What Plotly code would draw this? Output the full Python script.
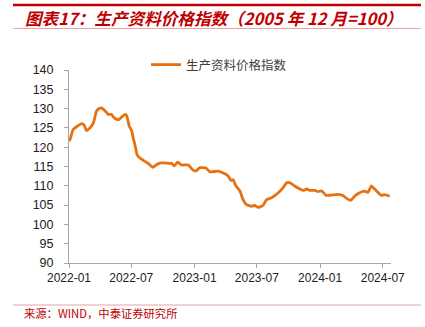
import plotly.graph_objects as go

dates = [
    "2022-01-01", "2022-01-04", "2022-01-13", "2022-01-23", "2022-02-07", "2022-02-14",
    "2022-02-21", "2022-03-03", "2022-03-13", "2022-03-22", "2022-03-30", "2022-04-06",
    "2022-04-16", "2022-04-25", "2022-05-05", "2022-05-10", "2022-05-20", "2022-05-27",
    "2022-06-03", "2022-06-13", "2022-06-18", "2022-06-25", "2022-07-02", "2022-07-07",
    "2022-07-12", "2022-07-18", "2022-07-26", "2022-08-05", "2022-08-19", "2022-09-01",
    "2022-09-13", "2022-09-22", "2022-10-12", "2022-10-26", "2022-11-03", "2022-11-13",
    "2022-11-24", "2022-12-14", "2022-12-26", "2023-01-04", "2023-01-17", "2023-02-03",
    "2023-02-15", "2023-03-11", "2023-03-30", "2023-04-09", "2023-04-17", "2023-04-23",
    "2023-05-01", "2023-05-13", "2023-05-22", "2023-06-01", "2023-06-16", "2023-06-25",
    "2023-07-05", "2023-07-19", "2023-07-29", "2023-08-13", "2023-08-23", "2023-09-06",
    "2023-09-16", "2023-09-26", "2023-10-05", "2023-10-20", "2023-11-03", "2023-11-13",
    "2023-11-23", "2023-12-02", "2023-12-17", "2023-12-26", "2024-01-05", "2024-01-19",
    "2024-02-03", "2024-02-22", "2024-03-07", "2024-03-20", "2024-03-30", "2024-04-10",
    "2024-04-25", "2024-05-09", "2024-05-19", "2024-05-29", "2024-06-07", "2024-06-17",
    "2024-06-27", "2024-07-06", "2024-07-21",
]
values = [
    121.6, 122.0, 124.6, 125.3, 126.1, 125.7,
    124.3, 125.0, 126.3, 129.4, 130.0, 130.2,
    129.4, 128.5, 128.5, 127.8, 127.2, 127.2,
    127.8, 128.5, 128.1, 125.5, 124.3, 122.3,
    120.5, 118.0, 117.2, 116.6, 115.8, 114.8,
    115.5, 115.9, 115.9, 115.8, 115.2, 116.1,
    115.4, 115.4, 114.2, 113.8, 114.7, 114.6,
    113.6, 113.8, 113.1, 112.5, 111.4, 111.6,
    110.0, 108.6, 106.4, 105.1, 104.7, 104.9,
    104.4, 104.9, 106.4, 106.9, 107.5, 108.6,
    109.6, 110.8, 110.8, 109.9, 109.2, 108.8,
    109.2, 108.8, 108.8, 108.5, 108.7, 107.5,
    107.6, 107.8, 107.5, 106.6, 106.2, 107.3,
    108.2, 108.6, 108.3, 110.0, 109.2, 108.3,
    107.5, 107.7, 107.3,
]
series_name = "生产资料价格指数"
x_ticks = ["2022-01-01", "2022-07-01", "2023-01-01", "2023-07-01", "2024-01-01", "2024-07-01"]
x_tick_labels = ["2022-01", "2022-07", "2023-01", "2023-07", "2024-01", "2024-07"]
title_text = "图表17：生产资料价格指数（2005 年 12 月=100）"
source_text = "来源：WIND，中泰证券研究所"

W, H = 425, 327
L, R, T, B = 69, 391, 70, 263  # plot area in pixels


def px(x):
    return (x - L) / (R - L)


def py(y):
    return (B - y) / (B - T)


fig = go.Figure()
fig.add_trace(go.Scatter(
    x=dates, y=values, mode="lines", name=series_name,
    line=dict(color="#E8700F", width=2.8, shape="spline", smoothing=0.4),
))

axis_col = "#A6A6A6"
fig.update_layout(
    width=W, height=H,
    margin=dict(l=L, r=W - R, t=T, b=H - B, pad=0),
    paper_bgcolor="white", plot_bgcolor="white",
    font=dict(family="Liberation Sans, Arial, sans-serif", color="#333333", size=12),
    showlegend=True,
    legend=dict(
        x=px(146), y=py(65), xanchor="left", yanchor="middle",
        bgcolor="rgba(0,0,0,0)", borderwidth=0,
        font=dict(family="Noto Sans CJK SC", size=12.5, color="#404040"),
    ),
    xaxis=dict(
        type="date", range=["2022-01-01", "2024-07-25"],
        tickvals=x_ticks, ticktext=x_tick_labels,
        showgrid=False, zeroline=False,
        showline=True, linecolor=axis_col, linewidth=1,
        ticks="outside", ticklen=4, tickcolor=axis_col,
        tickfont=dict(size=12, color="#222222"),
    ),
    yaxis=dict(
        range=[90, 140], tickvals=list(range(90, 141, 5)),
        showgrid=False, zeroline=False,
        showline=True, linecolor=axis_col, linewidth=1,
        ticks="outside", ticklen=4, tickcolor=axis_col,
        tickfont=dict(size=12.5, color="#222222"),
        ticklabelstandoff=8,
    ),
    shapes=[
        dict(type="line", xref="paper", yref="paper", x0=px(13), x1=px(421), y0=py(5), y1=py(5),
             line=dict(color="#C00000", width=2.5)),
        dict(type="line", xref="paper", yref="paper", x0=px(13), x1=px(421), y0=py(28.5), y1=py(28.5),
             line=dict(color="#E9A3A3", width=1)),
        dict(type="line", xref="paper", yref="paper", x0=px(13), x1=px(421), y0=py(305), y1=py(305),
             line=dict(color="#E9A3A3", width=1)),
    ],
    annotations=[
        dict(text="<b><i>" + title_text + "</i></b>", xref="paper", yref="paper",
             x=px(23), y=py(18.5), xanchor="left", yanchor="middle", showarrow=False,
             font=dict(family="Noto Sans CJK SC", size=16.6, color="#C00000")),
        dict(text=source_text, xref="paper", yref="paper",
             x=px(22), y=py(313), xanchor="left", yanchor="middle", showarrow=False,
             font=dict(family="Noto Sans CJK SC", size=11.3, color="#C00000")),
    ],
)

fig.write_html("out.html")
